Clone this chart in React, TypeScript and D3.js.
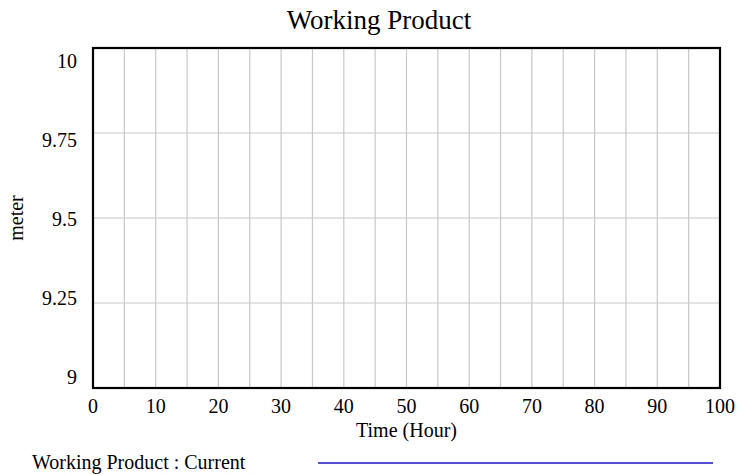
import { useEffect, useRef } from "react";
import * as d3 from "d3";

const title = "Working Product";
const xLabel = "Time (Hour)";
const yLabel = "meter";

const xDomain: [number, number] = [0, 100];
const yDomain: [number, number] = [9, 10];
const xTicks = [0, 10, 20, 30, 40, 50, 60, 70, 80, 90, 100];
const xGrid = [5, 10, 15, 20, 25, 30, 35, 40, 45, 50, 55, 60, 65, 70, 75, 80, 85, 90, 95];
const yTicks = [9, 9.25, 9.5, 9.75, 10];
const yTickLabels = ["9", "9.25", "9.5", "9.75", "10"];

// series has no points inside the visible range
const seriesNames = ["Working Product : Current"];
const seriesColors = ["#4b4bff"];
const seriesTime: number[] = [];
const seriesValues: number[] = [];

const FONT = "'Liberation Serif', 'Times New Roman', serif";

export default function App() {
  const svgRef = useRef<SVGSVGElement>(null);

  useEffect(() => {
    if (!svgRef.current) return;
    const svg = d3.select(svgRef.current);
    svg.selectAll("*").remove();

    const width = 737;
    const height = 475;
    const margin = { top: 48, right: 17, bottom: 87, left: 93 };
    const innerWidth = width - margin.left - margin.right;
    const innerHeight = height - margin.top - margin.bottom;

    svg.attr("width", width).attr("height", height);

    const g = svg
      .append("g")
      .attr("transform", `translate(${margin.left},${margin.top})`);

    const x = d3.scaleLinear().domain(xDomain).range([0, innerWidth]);
    const y = d3.scaleLinear().domain(yDomain).range([innerHeight, 0]);
    // labels sit inset from the frame edges, Vensim style
    const yLab = d3.scaleLinear().domain(yDomain).range([innerHeight - 11, 13]);

    // Grid lines
    g.selectAll(".vgrid")
      .data(xGrid)
      .enter()
      .append("line")
      .attr("x1", (d) => x(d))
      .attr("x2", (d) => x(d))
      .attr("y1", 0)
      .attr("y2", innerHeight)
      .attr("stroke", "#c8c8c8")
      .attr("stroke-width", 1.2);

    g.selectAll(".hgrid")
      .data(yTicks.slice(1, -1))
      .enter()
      .append("line")
      .attr("x1", 0)
      .attr("x2", innerWidth)
      .attr("y1", (d) => y(d))
      .attr("y2", (d) => y(d))
      .attr("stroke", "#c8c8c8")
      .attr("stroke-width", 1.2);

    // Series line (empty)
    const pts = seriesTime.map((t, i) => [t, seriesValues[i]] as [number, number]);
    g.append("path")
      .datum(pts)
      .attr("fill", "none")
      .attr("stroke", seriesColors[0])
      .attr("stroke-width", 2)
      .attr("d", d3.line().x((d) => x(d[0])).y((d) => y(d[1]))(pts) || "");

    // Frame
    g.append("rect")
      .attr("x", 0)
      .attr("y", 0)
      .attr("width", innerWidth)
      .attr("height", innerHeight)
      .attr("fill", "none")
      .attr("stroke", "#000")
      .attr("stroke-width", 2.2);

    // Tick labels
    g.selectAll(".xt")
      .data(xTicks)
      .enter()
      .append("text")
      .attr("x", (d) => x(d))
      .attr("y", innerHeight + 25)
      .attr("text-anchor", "middle")
      .attr("font-family", FONT)
      .attr("font-size", 20)
      .attr("fill", "#000")
      .text((d) => String(d));

    g.selectAll(".yt")
      .data(yTicks)
      .enter()
      .append("text")
      .attr("x", -16)
      .attr("y", (d) => yLab(d))
      .attr("dy", "0.35em")
      .attr("text-anchor", "end")
      .attr("font-family", FONT)
      .attr("font-size", 20)
      .attr("fill", "#000")
      .text((_, i) => yTickLabels[i]);

    // Axis titles
    g.append("text")
      .attr("x", innerWidth / 2)
      .attr("y", innerHeight + 49)
      .attr("text-anchor", "middle")
      .attr("font-family", FONT)
      .attr("font-size", 20)
      .text(xLabel);

    svg
      .append("text")
      .attr("transform", `translate(23,${margin.top + innerHeight / 2}) rotate(-90)`)
      .attr("text-anchor", "middle")
      .attr("font-family", FONT)
      .attr("font-size", 20)
      .text(yLabel);

    svg
      .append("text")
      .attr("x", 379)
      .attr("y", 29)
      .attr("text-anchor", "middle")
      .attr("font-family", FONT)
      .attr("font-size", 27)
      .text(title);

    // Legend
    seriesNames.forEach((name, i) => {
      const ly = 463 + i * 20;
      svg
        .append("text")
        .attr("x", 32)
        .attr("y", ly + 6)
        .attr("font-family", FONT)
        .attr("font-size", 20)
        .text(name);
      svg
        .append("line")
        .attr("x1", 318)
        .attr("x2", 713)
        .attr("y1", ly)
        .attr("y2", ly)
        .attr("stroke", seriesColors[i])
        .attr("stroke-width", 2);
    });
  }, []);

  return (
    <div style={{ position: "absolute", left: 0, top: 0 }}>
      <svg ref={svgRef} style={{ display: "block", background: "#fff" }} />
    </div>
  );
}
